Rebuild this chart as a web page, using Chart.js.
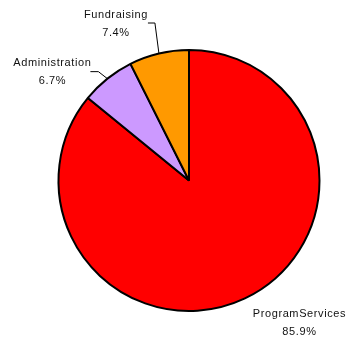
<!DOCTYPE html>
<html>
<head>
<meta charset="utf-8">
<script src="https://cdn.jsdelivr.net/npm/chart.js@4/dist/chart.umd.min.js"></script>
<style>
  html, body { margin: 0; padding: 0; background: #FFFFFF; }
  canvas { display: block; }
</style>
</head>
<body>
<canvas id="gastos" width="346" height="343"></canvas>
<script>
// Distribuição das despesas
const categorias = ["ProgramServices", "Administration", "Fundraising"];
const percentuais = [85.9, 6.7, 7.4];
const cores = ["#FF0000", "#CC99FF", "#FF9900"];

// posição de cada rótulo em relação à borda da fatia (cotovelo, linha, texto)
const rotulos = [
  { elbow: null, run: 0, text: [54.5, 25] },
  { elbow: [-9, -7], run: -8, text: [-38, 0] },
  { elbow: [-4, -30.5], run: -7, text: [-32, 1] },
];

const rotulosPlugin = {
  id: "rotulos",
  afterDatasetsDraw(chart) {
    const ctx = chart.ctx;
    const meta = chart.getDatasetMeta(0);
    ctx.save();
    ctx.font = "11px 'Liberation Sans', Arial, sans-serif";
    ctx.letterSpacing = "0.6px";
    ctx.fillStyle = "#111111";
    ctx.strokeStyle = "#000000";
    ctx.lineWidth = 1;
    ctx.textAlign = "center";
    ctx.textBaseline = "middle";
    meta.data.forEach((arc, i) => {
      const p = arc.getProps(["x", "y", "startAngle", "endAngle", "outerRadius"], true);
      const meio = (p.startAngle + p.endAngle) / 2;
      const ex = p.x + Math.cos(meio) * p.outerRadius;
      const ey = p.y + Math.sin(meio) * p.outerRadius;
      const r = rotulos[i];
      let fx = ex, fy = ey;
      if (r.elbow) {
        const cx = ex + r.elbow[0], cy = ey + r.elbow[1];
        fx = cx + r.run; fy = cy;
        ctx.beginPath();
        ctx.moveTo(ex, ey);
        ctx.lineTo(cx, cy);
        ctx.lineTo(fx, fy);
        ctx.stroke();
      }
      const tx = fx + r.text[0], ty = fy + r.text[1];
      ctx.fillText(categorias[i], tx, ty - 9);
      ctx.fillText(percentuais[i].toFixed(1) + "%", tx, ty + 9);
    });
    ctx.restore();
  },
};

new Chart(document.getElementById("gastos"), {
  type: "pie",
  data: {
    labels: categorias,
    datasets: [
      {
        data: percentuais,
        backgroundColor: cores,
        borderColor: "#000000",
        borderWidth: 2,
      },
    ],
  },
  options: {
    responsive: false,
    animation: false,
    layout: { padding: { left: 57, right: 25, top: 49, bottom: 31 } },
    plugins: {
      legend: { display: false },
      tooltip: { enabled: false },
    },
  },
  plugins: [rotulosPlugin],
});
</script>
</body>
</html>
